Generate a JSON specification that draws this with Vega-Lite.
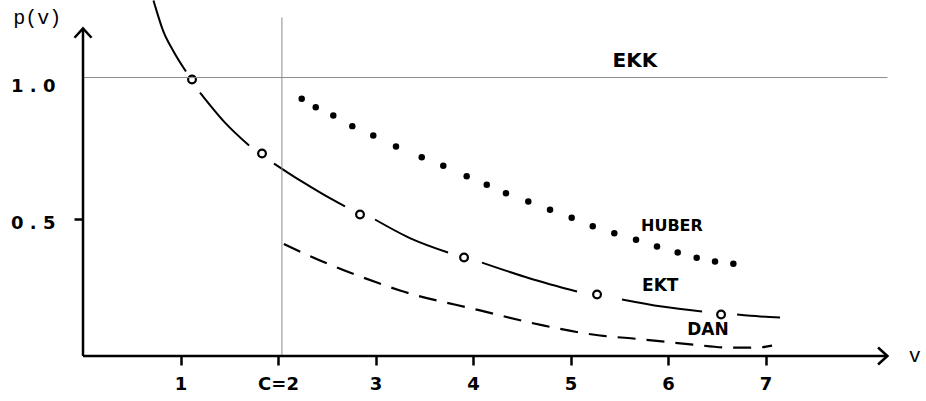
{
  "$schema": "https://vega.github.io/schema/vega-lite/v6.json",
  "autosize": {"type": "none"},
  "width": 805,
  "height": 356,
  "padding": {"left": 83, "top": 0, "right": 38, "bottom": 45},
  "background": "white",
  "config": {"view": {"stroke": null}},
  "datasets": {
    "one": [{"id": 1}],
    "ekt": [
      {"x": 0.723, "y": 1.302, "seg": 1}, {"x": 0.738, "y": 1.284, "seg": 1}, {"x": 0.821, "y": 1.192, "seg": 1}, {"x": 0.923, "y": 1.119, "seg": 1}, {"x": 1.056, "y": 1.042, "seg": 1},
      {"x": 1.2, "y": 0.965, "seg": 2}, {"x": 1.456, "y": 0.855, "seg": 2}, {"x": 1.703, "y": 0.771, "seg": 2},
      {"x": 1.959, "y": 0.705, "seg": 3}, {"x": 2.226, "y": 0.643, "seg": 3}, {"x": 2.451, "y": 0.595, "seg": 3}, {"x": 2.687, "y": 0.548, "seg": 3},
      {"x": 2.995, "y": 0.5, "seg": 4}, {"x": 3.364, "y": 0.43, "seg": 4}, {"x": 3.744, "y": 0.379, "seg": 4},
      {"x": 4.092, "y": 0.342, "seg": 5}, {"x": 4.585, "y": 0.284, "seg": 5}, {"x": 5.067, "y": 0.236, "seg": 5},
      {"x": 5.528, "y": 0.207, "seg": 6}, {"x": 5.938, "y": 0.181, "seg": 6}, {"x": 6.349, "y": 0.163, "seg": 6},
      {"x": 6.708, "y": 0.152, "seg": 7}, {"x": 6.944, "y": 0.145, "seg": 7}, {"x": 7.149, "y": 0.141, "seg": 7}
    ],
    "ektc": [
      {"x": 1.118, "y": 1.013}, {"x": 1.836, "y": 0.742}, {"x": 2.841, "y": 0.518},
      {"x": 3.908, "y": 0.361}, {"x": 5.272, "y": 0.225}, {"x": 6.544, "y": 0.152}
    ],
    "huber": [
      {"x": 2.243, "y": 0.942}, {"x": 2.387, "y": 0.911}, {"x": 2.567, "y": 0.881}, {"x": 2.762, "y": 0.842},
      {"x": 2.977, "y": 0.808}, {"x": 3.21, "y": 0.767}, {"x": 3.474, "y": 0.728}, {"x": 3.695, "y": 0.697},
      {"x": 3.935, "y": 0.658}, {"x": 4.141, "y": 0.627}, {"x": 4.338, "y": 0.596}, {"x": 4.567, "y": 0.566},
      {"x": 4.79, "y": 0.536}, {"x": 5.012, "y": 0.506}, {"x": 5.228, "y": 0.475}, {"x": 5.449, "y": 0.45},
      {"x": 5.672, "y": 0.426}, {"x": 5.887, "y": 0.401}, {"x": 6.099, "y": 0.379}, {"x": 6.294, "y": 0.36},
      {"x": 6.482, "y": 0.346}, {"x": 6.67, "y": 0.338}
    ],
    "dan": [
      {"x": 2.06, "y": 0.41}, {"x": 2.431, "y": 0.35}, {"x": 3.015, "y": 0.269}, {"x": 3.251, "y": 0.24},
      {"x": 4.072, "y": 0.167}, {"x": 4.718, "y": 0.112}, {"x": 5.303, "y": 0.075}, {"x": 5.641, "y": 0.064},
      {"x": 6.256, "y": 0.042}, {"x": 6.605, "y": 0.031}, {"x": 6.913, "y": 0.031}, {"x": 7.067, "y": 0.038}
    ]
  },
  "layer": [
    {
      "data": {"name": "ekt"},
      "mark": {"type": "line", "color": "black", "strokeWidth": 2, "interpolate": "monotone"},
      "encoding": {
        "x": {
          "field": "x", "type": "quantitative",
          "scale": {"domain": [0, 8.256], "nice": false, "zero": false},
          "axis": {
            "title": null, "values": [1, 2, 3, 4, 5, 6, 7], "format": "d",
            "labelExpr": "datum.value == 2 ? 'C=2' : datum.label",
            "domain": false, "grid": false, "tickSize": 9, "tickWidth": 2.5, "tickColor": "black",
            "labelFont": "DejaVu Sans", "labelFontWeight": "bold", "labelFontSize": 18, "labelColor": "black",
            "labelPadding": 10
          }
        },
        "y": {
          "field": "y", "type": "quantitative",
          "scale": {"domain": [0, 1.304], "nice": false, "zero": false},
          "axis": {
            "title": null, "values": [0.5, 1],
            "labelExpr": "datum.value == 1 ? '1 . 0' : '0 . 5'",
            "domain": false, "grid": false, "tickSize": 9, "tickWidth": 2.5, "tickColor": "black",
            "tickOpacity": {"condition": {"test": "datum.value == 1", "value": 0}, "value": 1},
            "labelFont": "DejaVu Sans", "labelFontWeight": "bold", "labelFontSize": 18, "labelColor": "black",
            "labelPadding": 19, "labelOffset": 4
          }
        },
        "detail": {"field": "seg", "type": "nominal"}
      }
    },
    {
      "data": {"name": "ektc"},
      "mark": {"type": "point", "shape": "circle", "filled": false, "stroke": "black", "strokeWidth": 2.2, "size": 60, "opacity": 1},
      "encoding": {"x": {"field": "x", "type": "quantitative"}, "y": {"field": "y", "type": "quantitative"}}
    },
    {
      "data": {"name": "huber"},
      "mark": {"type": "point", "shape": "circle", "filled": true, "color": "black", "size": 42, "opacity": 1},
      "encoding": {"x": {"field": "x", "type": "quantitative"}, "y": {"field": "y", "type": "quantitative"}}
    },
    {
      "data": {"name": "dan"},
      "mark": {"type": "line", "color": "black", "strokeWidth": 2.2, "strokeDash": [18, 11], "interpolate": "monotone"},
      "encoding": {"x": {"field": "x", "type": "quantitative"}, "y": {"field": "y", "type": "quantitative"}}
    },
    {
      "data": {"name": "one"},
      "mark": {"type": "rule", "color": "#8c8c8c", "strokeWidth": 1},
      "encoding": {"x": {"datum": 2.04}, "y": {"datum": 0}, "y2": {"datum": 1.24}}
    },
    {
      "data": {"name": "one"},
      "mark": {"type": "rule", "color": "#8c8c8c", "strokeWidth": 1},
      "encoding": {"y": {"datum": 1.02}, "x": {"datum": 0}, "x2": {"datum": 8.25}}
    },
    {
      "data": {"name": "one"},
      "mark": {"type": "rule", "color": "black", "strokeWidth": 2.5},
      "encoding": {"x": {"datum": 0}, "y": {"datum": 0}, "y2": {"datum": 1.2}}
    },
    {
      "data": {"name": "one"},
      "mark": {"type": "rule", "color": "black", "strokeWidth": 2.5},
      "encoding": {"y": {"datum": 0}, "x": {"datum": 0}, "x2": {"datum": 8.24}}
    },
    {
      "data": {"name": "one"},
      "mark": {"type": "point", "shape": "M-1,1.1L0,0L1,1.1", "filled": false, "stroke": "black", "strokeWidth": 2.5, "size": 290, "opacity": 1},
      "encoding": {"x": {"datum": 0}, "y": {"datum": 1.2}}
    },
    {
      "data": {"name": "one"},
      "mark": {"type": "point", "shape": "M-1,1.1L0,0L1,1.1", "filled": false, "stroke": "black", "strokeWidth": 2.5, "size": 290, "angle": 90, "opacity": 1},
      "encoding": {"x": {"datum": 8.25}, "y": {"datum": 0}}
    },
    {
      "data": {"name": "one"},
      "mark": {"type": "text", "font": "DejaVu Sans", "fontWeight": "bold", "fontSize": 20, "color": "black"},
      "encoding": {"x": {"datum": 5.66}, "y": {"datum": 1.082}, "text": {"value": "EKK"}}
    },
    {
      "data": {"name": "one"},
      "mark": {"type": "text", "font": "DejaVu Sans", "fontWeight": "bold", "fontSize": 16, "color": "black"},
      "encoding": {"x": {"datum": 6.04}, "y": {"datum": 0.478}, "text": {"value": "HUBER"}}
    },
    {
      "data": {"name": "one"},
      "mark": {"type": "text", "font": "DejaVu Sans", "fontWeight": "bold", "fontSize": 17, "color": "black"},
      "encoding": {"x": {"datum": 5.92}, "y": {"datum": 0.258}, "text": {"value": "EKT"}}
    },
    {
      "data": {"name": "one"},
      "mark": {"type": "text", "font": "DejaVu Sans", "fontWeight": "bold", "fontSize": 17, "color": "black"},
      "encoding": {"x": {"datum": 6.41}, "y": {"datum": 0.094}, "text": {"value": "DAN"}}
    },
    {
      "data": {"name": "one"},
      "mark": {"type": "text", "font": "Liberation Mono", "fontSize": 20, "color": "black"},
      "encoding": {"x": {"datum": -0.47}, "y": {"datum": 1.237}, "text": {"value": "p(v)"}}
    },
    {
      "data": {"name": "one"},
      "mark": {"type": "text", "font": "Liberation Mono", "fontSize": 20, "color": "black"},
      "encoding": {"x": {"datum": 8.53}, "y": {"datum": 0.0}, "text": {"value": "v"}}
    }
  ]
}
